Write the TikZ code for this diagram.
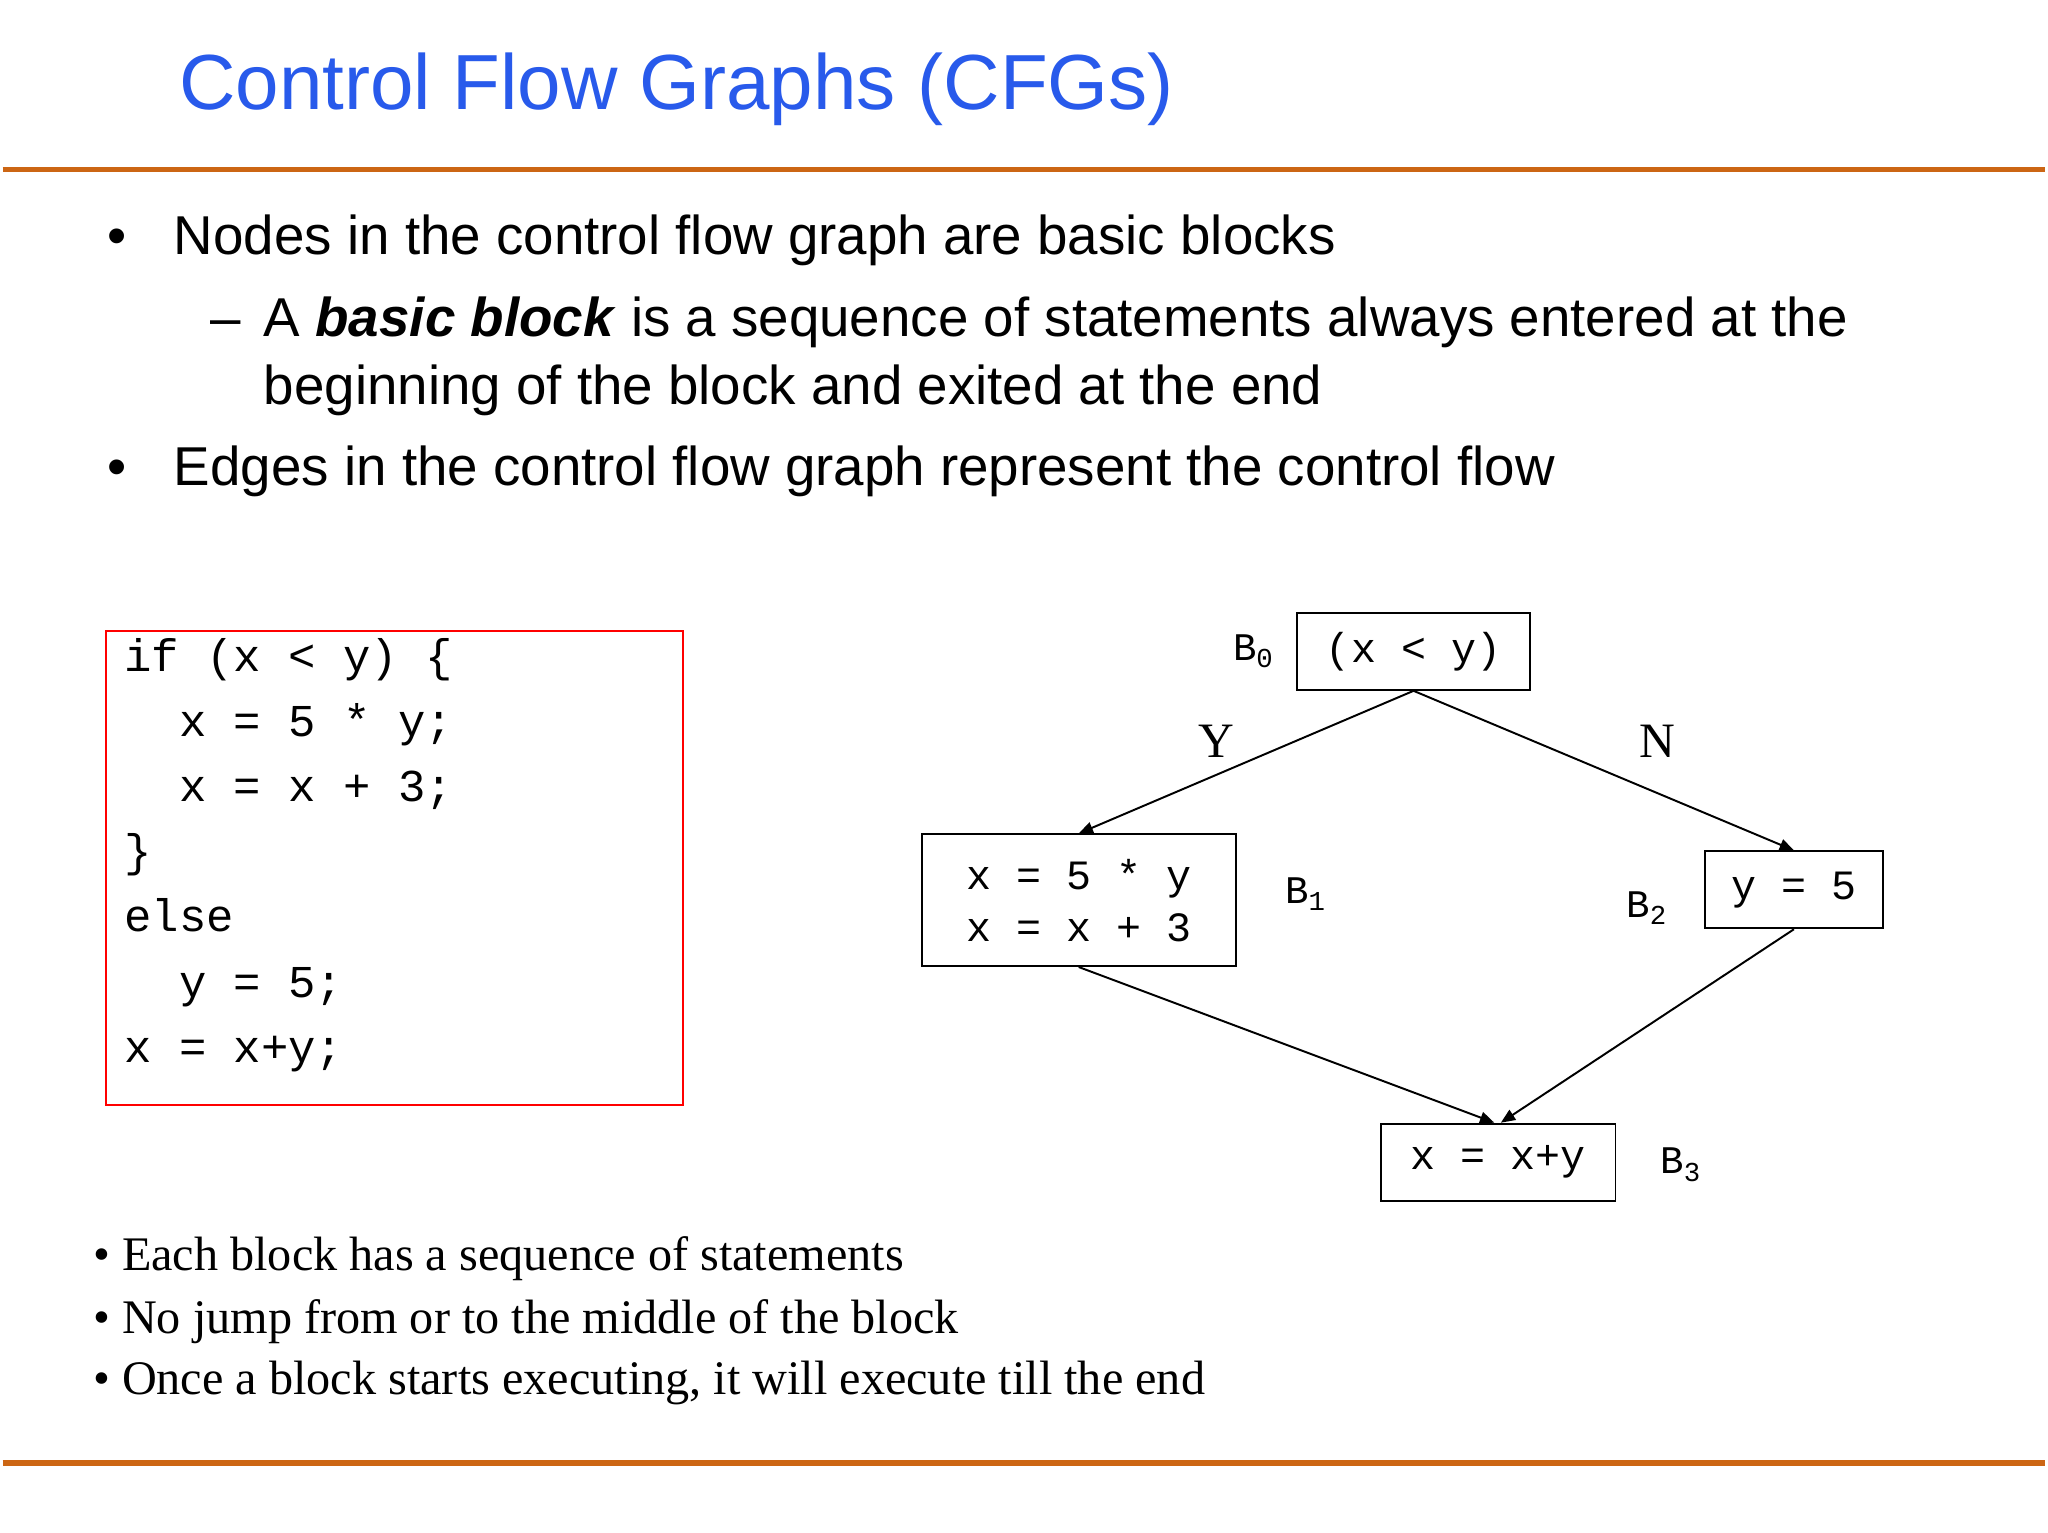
\documentclass[tikz,border=0pt]{standalone}
\usepackage{fontspec}
\setmainfont{Liberation Serif}
\setsansfont{Liberation Sans}
\setmonofont{Liberation Mono}
\usetikzlibrary{arrows.meta}
\definecolor{ttl}{RGB}{40,90,235}
\definecolor{rule}{RGB}{204,102,20}
\tikzset{
  x=1pt,y=-1pt,
  blk/.style={draw,line width=1.5pt,font=\ttfamily\fontsize{32}{36}\selectfont,inner sep=0pt,align=left},
  lbl/.style={font=\ttfamily\fontsize{30}{34}\selectfont},
  yn/.style={font=\fontsize{38}{40}\selectfont},
  edge/.style={line width=1.5pt,-{Triangle[length=11pt,width=9pt]}},
  big/.style={font=\sffamily\fontsize{42}{48}\selectfont,anchor=mid west},
  code/.style={font=\ttfamily\fontsize{35}{40}\selectfont,anchor=mid west},
  sm/.style={font=\fontsize{37}{40}\selectfont,anchor=mid west}
}
\begin{document}
\begin{tikzpicture}
\fill[white] (0,0) rectangle (1568,1176);
\node[font=\sffamily\fontsize{60}{66}\selectfont,text=ttl,anchor=mid west] (title) at (132,82) {Control Flow Graphs (CFGs)};
\draw[rule,line width=4pt] (0,130) -- (1568,130);
\draw[rule,line width=4pt] (0,1123) -- (1568,1123);
\node[big,anchor=mid] (b1) at (88,193) {•};
\node[big] (t1) at (128,193) {Nodes in the control flow graph are basic blocks};
\node[big,anchor=mid] (d1) at (171,256) {–};
\node[big] (t2) at (197,256) {A \textbf{\textit{basic block}} is a sequence of statements always entered at the};
\node[big] (t3) at (197,308) {beginning of the block and exited at the end};
\node[big,anchor=mid] (b2) at (88,370) {•};
\node[big] (t4) at (128,370) {Edges in the control flow graph represent the control flow};

\draw[red,line width=1.5pt] (79,484) rectangle (522,848);
\node[code] (c1) at (90,513) {if (x < y) \{};
\node[code] (c2) at (132,563) {x = 5 * y;};
\node[code] (c3) at (132,613) {x = x + 3;};
\node[code] (c4) at (90,663) {\}};
\node[code] (c5) at (90,713) {else};
\node[code] (c6) at (132,763) {y = 5;};
\node[code] (c7) at (90,813) {x = x+y;};

\node[blk,minimum width=179pt,minimum height=59pt] (B0) at (1083,500) {(x < y)};
\node[blk,minimum width=241pt,minimum height=101pt] (B1) at (826,691) {x = 5 * y\\[4pt]x = x + 3};
\node[blk,minimum width=137pt,minimum height=59pt] (B2) at (1375,683) {y = 5};
\node[blk,minimum width=180pt,minimum height=59pt] (B3) at (1148,892) {x = x+y};
\node[lbl] (L0) at (960,500) {B\textsubscript{0}};
\node[lbl] (L1) at (1000,686) {B\textsubscript{1}};
\node[lbl] (L2) at (1262,697) {B\textsubscript{2}};
\node[lbl] (L3) at (1288,894) {B\textsubscript{3}};
\node[yn] (Y) at (932,569) {Y};
\node[yn] (N) at (1270,569) {N};
\draw[edge] (B0.south) -- (B1.north);
\draw[edge] (B0.south) -- (B2.north);
\draw[edge] (B1.south) -- ([xshift=-3pt]B3.north);
\draw[edge] (B2.south) -- ([xshift=2pt]B3.north);

\node[sm] (e1) at (66,973) {• Each block has a sequence of statements};
\node[sm] (e2) at (66,1021) {• No jump from or to the middle of the block};
\node[sm] (e3) at (66,1068) {• Once a block starts executing, it will execute till the end};
\end{tikzpicture}
\end{document}
